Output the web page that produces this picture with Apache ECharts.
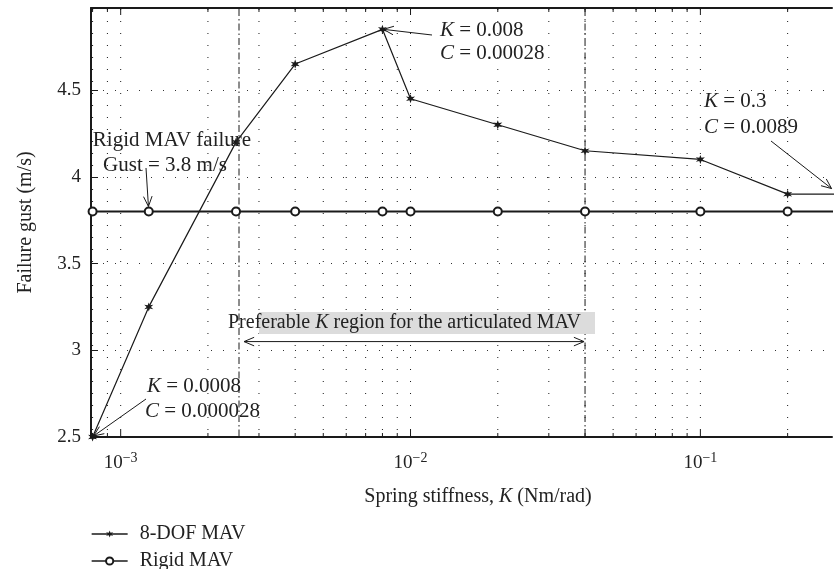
<!DOCTYPE html>
<html><head><meta charset="utf-8">
<script src="https://cdn.jsdelivr.net/npm/echarts@6/dist/echarts.min.js"></script>
<style>html,body{margin:0;padding:0;background:#fff}#c{width:835px;height:569px}</style>
</head><body><div id="c"></div>
<script>
// ---- data ----
const stiffness8dof = [0.0008, 0.00125, 0.0025, 0.004, 0.008, 0.01, 0.02, 0.04, 0.1, 0.2, 0.3];
const gust8dof      = [2.5,    3.25,    4.2,    4.65,  4.85,  4.45, 4.3,  4.15, 4.1, 3.9, 3.9];
const stiffnessRigid = [0.0008, 0.00125, 0.0025, 0.004, 0.008, 0.01, 0.02, 0.04, 0.1, 0.2, 0.3];
const gustRigid      = [3.8,    3.8,     3.8,    3.8,   3.8,   3.8,  3.8,  3.8,  3.8, 3.8, 3.8];
const preferableK = [0.00256, 0.04];
const xMajorTicks = [0.001, 0.01, 0.1];
const xGridK = [0.0008, 0.0009,
  0.001, 0.002, 0.003, 0.004, 0.005, 0.006, 0.007, 0.008, 0.009,
  0.01, 0.02, 0.03, 0.04, 0.05, 0.06, 0.07, 0.08, 0.09,
  0.1, 0.2];
const yTicks = [2.5, 3, 3.5, 4, 4.5];
const xRange = [0.00079, 0.2845];
const yRange = [2.5, 4.973];

const FONT = '"Liberation Serif", "DejaVu Serif", serif';
const INK = '#1a1a1a';
const chart = echarts.init(document.getElementById('c'));

function isMajor(v){ return xMajorTicks.some(t => Math.abs(t - v) / t < 1e-6); }

function starPath(){
  const n = 6, R = 10, r = 4.2; let d = '';
  for (let i = 0; i < 2*n; i++){
    const a = Math.PI * i / n - Math.PI/2, rr = (i % 2 === 0) ? R : r;
    d += (i === 0 ? 'M' : 'L') + (rr*Math.cos(a)).toFixed(2) + ' ' + (rr*Math.sin(a)).toFixed(2) + ' ';
  }
  return 'path://' + d + 'Z';
}

function vLineSeries(name, values, dash, withTicks, z){
  return {
    name, type: 'custom', silent: true, z, clip: false,
    data: values.map(k => [k, yRange[0]]),
    encode: { x: 0, y: 1 },
    renderItem: (params, api) => {
      const x = api.coord([api.value(0), yRange[0]])[0];
      const cs = params.coordSys, top = cs.y, bot = cs.y + cs.height;
      const ch = [{ type: 'line', shape: { x1: x, y1: top + 1, x2: x, y2: bot - 1 }, style: { stroke: INK, lineWidth: 1, lineDash: dash } }];
      if (withTicks){
        const L = isMajor(api.value(0)) ? 7 : 4;
        ch.push({ type: 'line', shape: { x1: x, y1: bot, x2: x, y2: bot - L }, style: { stroke: INK, lineWidth: 1 } });
        ch.push({ type: 'line', shape: { x1: x, y1: top, x2: x, y2: top + L }, style: { stroke: INK, lineWidth: 1 } });
      }
      return { type: 'group', children: ch };
    }
  };
}

const legendBase = {
  orient: 'horizontal', left: 86, itemWidth: 36, itemHeight: 9,
  lineStyle: { width: 1.3 },
  textStyle: { fontFamily: FONT, fontSize: 20, color: '#222', padding: [0, 0, 0, 7] }
};

const option = {
  animation: false,
  backgroundColor: '#fff',
  textStyle: { fontFamily: FONT },
  grid: { left: 91, top: 8, right: 0, bottom: 132 },
  xAxis: [{
    type: 'log', logBase: 10, min: xRange[0], max: xRange[1],
    axisLine: { show: true, lineStyle: { color: INK, width: 2 } },
    axisTick: { show: false },
    splitLine: { show: false },
    axisLabel: {
      margin: 14, color: '#222', fontFamily: FONT, fontSize: 19,
      formatter: v => {
        if (!isMajor(v)) return '';
        const e = Math.round(Math.log10(v));
        return '10{s|−' + (-e) + '}';
      },
      rich: { s: { fontSize: 14, fontFamily: FONT, color: '#222', padding: [0, 0, 11, 0] } }
    }
  }, {
    type: 'log', logBase: 10, min: xRange[0], max: xRange[1], position: 'top',
    axisLine: { show: true, lineStyle: { color: INK, width: 2 } },
    axisTick: { show: false }, axisLabel: { show: false }, splitLine: { show: false }
  }],
  yAxis: {
    type: 'value', min: yRange[0], max: yRange[1], interval: 0.5,
    axisLine: { show: true, lineStyle: { color: INK, width: 2 } },
    axisTick: { show: true, inside: true, length: 7, lineStyle: { color: INK } },
    splitLine: { show: true, lineStyle: { color: '#333', width: 1, type: [1, 11] } },
    axisLabel: {
      margin: 10, color: '#222', fontFamily: FONT, fontSize: 19,
      formatter: v => yTicks.some(t => Math.abs(t - v) < 1e-6) ? String(v) : ''
    },
    name: 'Failure gust (m/s)', nameLocation: 'middle', nameGap: 55,
    nameTextStyle: { fontFamily: FONT, fontSize: 20, color: '#222' }
  },
  legend: [
    Object.assign({}, legendBase, { top: 519, data: ['8-DOF MAV'] }),
    Object.assign({}, legendBase, { top: 546, data: ['Rigid MAV'] })
  ],
  series: [
    vLineSeries('grid', xGridK, [1, 11], true, 1),
    vLineSeries('region', preferableK, [7, 3, 1.5, 3], false, 2),
    {
      name: 'Rigid MAV', type: 'line', z: 3, clip: true,
      data: stiffnessRigid.map((k, i) => [k, gustRigid[i]]),
      symbol: 'circle', symbolSize: 8,
      lineStyle: { color: INK, width: 2 },
      itemStyle: { color: '#fff', borderColor: INK, borderWidth: 2 }
    },
    {
      name: '8-DOF MAV', type: 'line', z: 4, clip: true,
      data: stiffness8dof.map((k, i) => [k, gust8dof[i]]),
      symbol: starPath(), symbolSize: 9,
      lineStyle: { color: INK, width: 1.2 },
      itemStyle: { color: INK }
    }
  ]
};
chart.setOption(option);

// ---- annotations ----
const P = (k, g) => chart.convertToPixel({ xAxisIndex: 0, yAxisIndex: 0 }, [k, g]);
function arrow(x1, y1, x2, y2, both){
  const els = [{ type: 'line', shape: { x1, y1, x2, y2 }, style: { stroke: INK, lineWidth: 1 }, z: 20 }];
  const head = (ax, ay, bx, by) => {
    const a = Math.atan2(ay - by, ax - bx), h = 11, s = 0.4;
    return { type: 'polyline', shape: { points: [
      [bx + h*Math.cos(a + s), by + h*Math.sin(a + s)], [bx, by], [bx + h*Math.cos(a - s), by + h*Math.sin(a - s)]
    ] }, style: { stroke: INK, lineWidth: 1, fill: null }, z: 20 };
  };
  els.push(head(x1, y1, x2, y2));
  if (both) els.push(head(x2, y2, x1, y1));
  return els;
}
function txt(x, y, s, size, align){
  return { type: 'text', z: 21, style: { x, y, text: s, align: align || 'left', verticalAlign: 'middle',
    fontFamily: FONT, fontSize: size, fill: '#222',
    rich: { i: { fontStyle: 'italic', fontFamily: FONT, fontSize: size, fill: '#222' } } } };
}
function toward(x1, y1, px, py, gap){
  const d = Math.hypot(px - x1, py - y1);
  return [px - (px - x1) / d * gap, py - (py - y1) / d * gap];
}
const pMax = P(stiffness8dof[4], gust8dof[4]);
const pLast = P(stiffness8dof[10], gust8dof[10]);
const pFirst = P(stiffness8dof[0], gust8dof[0]);
const pRigid = P(stiffnessRigid[1], gustRigid[1]);
const pA = P(preferableK[0], 3.05), pB = P(preferableK[1], 3.05);
const eLast = toward(771, 141, pLast[0], pLast[1], 9);
const eRigid = toward(146, 168, pRigid[0], pRigid[1], 5);

const g = [];
g.push(txt(440, 30, '{i|K} = 0.008', 21));
g.push(txt(440, 53, '{i|C} = 0.00028', 21));
g.push(...arrow(432, 35, pMax[0] + 1, pMax[1]));
g.push(txt(704, 101, '{i|K} = 0.3', 21));
g.push(txt(704, 127, '{i|C} = 0.0089', 21));
g.push(...arrow(771, 141, eLast[0], eLast[1]));
g.push(txt(172, 140, 'Rigid MAV failure', 21, 'center'));
g.push(txt(165, 165, 'Gust = 3.8 m/s', 21, 'center'));
g.push(...arrow(146, 168, eRigid[0], eRigid[1]));
g.push({ type: 'rect', z: 15, shape: { x: 259, y: 312, width: 336, height: 22 }, style: { fill: '#dcdcdc' } });
g.push(txt(228, 323, 'Preferable {i|K} region for the articulated MAV', 20));
g.push(...arrow(pA[0] + 5, pA[1], pB[0] - 1, pB[1], true));
g.push(txt(147, 386, '{i|K} = 0.0008', 21));
g.push(txt(145, 411, '{i|C} = 0.000028', 21));
g.push(...arrow(146, 399, pFirst[0] + 1, pFirst[1] - 1));
g.push(txt(478, 497, 'Spring stiffness, {i|K} (Nm/rad)', 20, 'center'));
chart.setOption({ graphic: g });
</script></body></html>
